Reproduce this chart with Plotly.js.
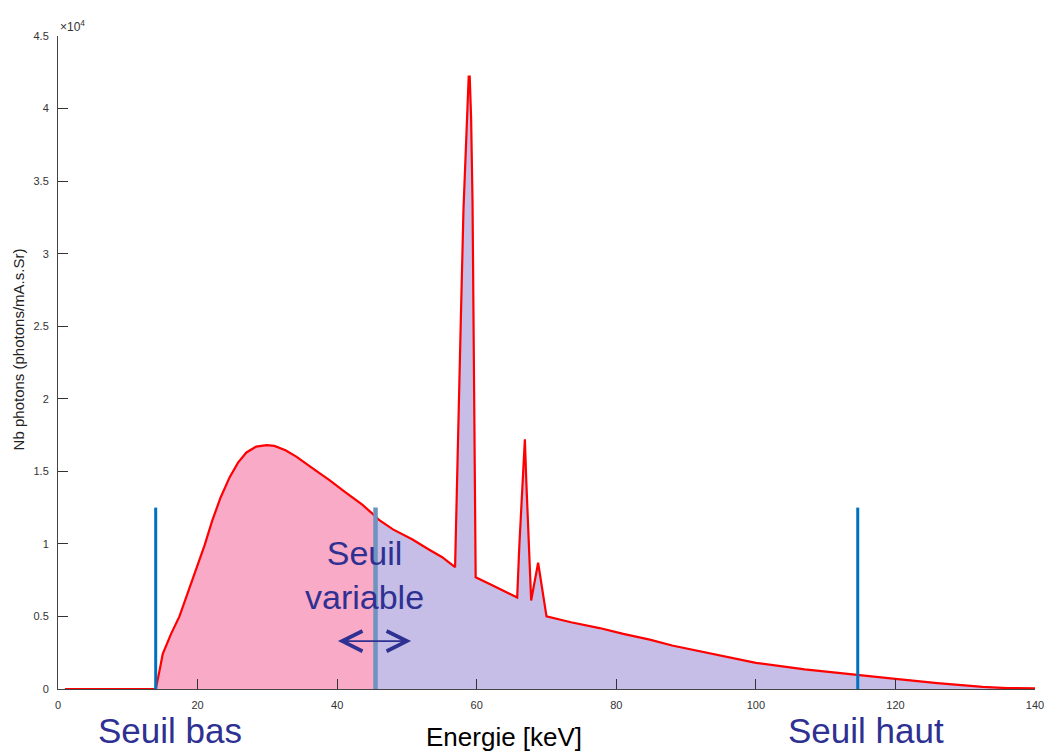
<!DOCTYPE html>
<html>
<head>
<meta charset="utf-8">
<script src="https://cdn.plot.ly/plotly-3.0.1.min.js"></script>
<style>
  html, body { margin: 0; padding: 0; background: #ffffff; }
  #chart { width: 1046px; height: 752px; }
</style>
</head>
<body>
<div id="chart"></div>
<script>
// Energy axis (keV)
const energy = [1, 14, 14.1, 14.3, 14.6, 15, 15.6, 16.2, 17.4, 18.6, 19.8, 21, 22.1, 23.3, 24.6, 25.8, 27, 28.4, 29.9, 31, 32.6,
  34.2, 36.5, 38.9, 41.2, 43.6, 45.5, 46, 48, 50.8, 53.2, 55, 56.9,
  57.1, 57.3, 57.45, 57.75, 58.1, 58.35, 58.5, 58.7, 58.85, 59.0, 59.2, 59.4, 59.55, 59.7, 59.85,
  62, 65.8, 66.1, 66.4, 66.6, 66.9, 67.1, 67.4, 67.8, 68.8, 69.4, 70.0,
  73.5, 77.6, 81, 84.8, 88, 91.9, 96, 100, 107, 114.5, 120, 126, 132.5, 136, 140];
// Photon counts (photons/mA.s.Sr)
const photons = [0, 0, 200, 800, 1400, 2400, 3100, 3800, 5000, 6600, 8200, 9900, 11600, 13200, 14600, 15600, 16300, 16700, 16800, 16750, 16450,
  16000, 15200, 14400, 13550, 12700, 11900, 11650, 11000, 10300, 9600, 9100, 8400,
  13000, 17500, 20000, 26000, 33000, 36200, 38700, 41000, 42200, 42200, 39300, 33600, 24000, 13000, 7700,
  7200, 6300, 9800, 12500, 14400, 17200, 14400, 10700, 6100, 8700, 6800, 5000,
  4600, 4200, 3800, 3400, 3000, 2600, 2200, 1800, 1350, 1000, 700, 400, 140, 60, 50];

// Thresholds (keV)
const seuilBas = 14;
const seuilVariable = 45.5;
const seuilHaut = 114.6;
const seuilHeight = 12500;

// Tick labels
const xTicks = [0, 20, 40, 60, 80, 100, 120, 140];
const yTickVals = [0, 5000, 10000, 15000, 20000, 25000, 30000, 35000, 40000, 45000];
const yTickText = ['0', '0.5', '1', '1.5', '2', '2.5', '3', '3.5', '4', '4.5'];

const pinkX = [], pinkY = [], lavX = [], lavY = [];
energy.forEach((e, i) => {
  if (e >= seuilBas && e <= seuilVariable) { pinkX.push(e); pinkY.push(photons[i]); }
  if (e >= seuilVariable) { lavX.push(e); lavY.push(photons[i]); }
});

const blueText = '#2E3192';
const font = 'Liberation Sans, Arial, sans-serif';

const traces = [
  { x: pinkX, y: pinkY, type: 'scatter', mode: 'lines', fill: 'tozeroy',
    fillcolor: '#F9AAC7', line: { width: 0, color: 'rgba(0,0,0,0)' }, hoverinfo: 'skip' },
  { x: lavX, y: lavY, type: 'scatter', mode: 'lines', fill: 'tozeroy',
    fillcolor: '#C6BEE6', line: { width: 0, color: 'rgba(0,0,0,0)' }, hoverinfo: 'skip' },
  { x: energy, y: photons, type: 'scatter', mode: 'lines',
    line: { color: '#FF0000', width: 2.2 } }
];

const layout = {
  width: 1046, height: 752,
  margin: { l: 58, r: 11, t: 36, b: 63 },
  paper_bgcolor: '#ffffff', plot_bgcolor: '#ffffff',
  showlegend: false,
  font: { family: font, color: '#333333', size: 11 },
  xaxis: {
    range: [0, 140], tickvals: xTicks, ticks: 'inside', ticklen: 10, tickcolor: '#333',
    showgrid: false, zeroline: false, showline: true, linecolor: '#444', linewidth: 1,
    ticklabelstandoff: 6, tickfont: { size: 11, color: '#333' }
  },
  yaxis: {
    range: [0, 45000], tickvals: yTickVals, ticktext: yTickText, ticks: 'inside', ticklen: 10, tickcolor: '#333',
    showgrid: false, zeroline: false, showline: true, linecolor: '#444', linewidth: 1,
    ticklabelstandoff: 6, tickfont: { size: 11, color: '#333' }
  },
  shapes: [
    { type: 'line', xref: 'x', yref: 'y', x0: seuilBas, x1: seuilBas, y0: 0, y1: seuilHeight,
      line: { color: '#0070C0', width: 3 }, layer: 'above' },
    { type: 'line', xref: 'x', yref: 'y', x0: seuilHaut, x1: seuilHaut, y0: 0, y1: seuilHeight,
      line: { color: '#0070C0', width: 3 }, layer: 'above' },
    { type: 'line', xref: 'x', yref: 'y', x0: seuilVariable, x1: seuilVariable, y0: 0, y1: seuilHeight,
      line: { color: '#6F93BF', width: 4.5 }, layer: 'above' }
  ],
  annotations: [
    { text: '×10<sup>4</sup>', xref: 'paper', yref: 'paper', x: 0.0, y: 1.0, xanchor: 'left', yanchor: 'bottom',
      showarrow: false, font: { size: 12, color: '#333' } },
    { text: 'Nb photons (photons/mA.s.Sr)', xref: 'paper', yref: 'paper', x: -0.041, y: 0.52,
      xanchor: 'center', yanchor: 'middle', textangle: -90, showarrow: false,
      font: { size: 15, color: '#222' } },
    { text: 'Energie [keV]', xref: 'paper', yref: 'paper', x: 0.4565, y: -0.074,
      xanchor: 'center', yanchor: 'middle', showarrow: false, font: { size: 26, color: '#000' } },
    { text: 'Seuil bas', xref: 'paper', yref: 'paper', x: 0.1146, y: -0.064,
      xanchor: 'center', yanchor: 'middle', showarrow: false, font: { size: 35, color: blueText } },
    { text: 'Seuil haut', xref: 'paper', yref: 'paper', x: 0.827, y: -0.064,
      xanchor: 'center', yanchor: 'middle', showarrow: false, font: { size: 35, color: blueText } },
    { text: 'Seuil<br>variable', xref: 'paper', yref: 'paper', x: 0.314, y: 0.175,
      xanchor: 'center', yanchor: 'middle', showarrow: false, font: { size: 34, color: blueText } },
    { x: 50.6, y: 3300, ax: 39.9, ay: 3300, xref: 'x', yref: 'y', axref: 'x', ayref: 'y',
      text: '', showarrow: true, arrowside: 'end+start', arrowhead: 5, startarrowhead: 5,
      arrowsize: 2.2, startarrowsize: 2.2, arrowwidth: 1.8, arrowcolor: blueText, standoff: 0, startstandoff: 0 }
  ]
};

Plotly.newPlot('chart', traces, layout, { displayModeBar: false, staticPlot: true });
</script>
</body>
</html>
